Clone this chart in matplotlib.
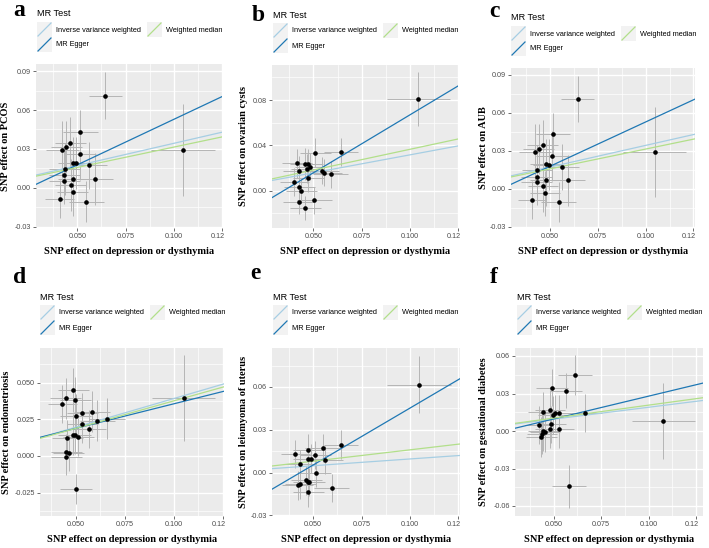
import numpy as np
import matplotlib
matplotlib.use("Agg")
import matplotlib.pyplot as plt
import matplotlib.transforms as mtrans
from matplotlib.patches import Rectangle
from matplotlib.lines import Line2D

W, H = 709, 548

# exposure: SNP effect on depression or dysthymia (shared SNPs for a and c)
x_pcos = [0.0646, 0.0516, 0.0464, 0.0443, 0.0423, 0.0514, 0.0478, 0.0495, 0.0562, 0.0434,
          0.0432, 0.0432, 0.0479, 0.0594, 0.0465, 0.0476, 0.0408, 0.0547, 0.1047]
sx_pcos = [0.0087, 0.0089, 0.008, 0.008, 0.0085, 0.0085, 0.008, 0.008, 0.009, 0.008,
           0.008, 0.008, 0.008, 0.009, 0.008, 0.008, 0.0075, 0.009, 0.0165]
y_pcos = [0.071, 0.043, 0.0344, 0.0313, 0.0292, 0.0258, 0.0195, 0.019, 0.0174, 0.0146,
          0.0097, 0.0052, 0.0066, 0.0066, 0.0019, -0.0036, -0.0086, -0.0106, 0.0292]
sy_pcos = [0.018, 0.017, 0.02, 0.02, 0.022, 0.02, 0.02, 0.02, 0.018, 0.02,
           0.02, 0.018, 0.02, 0.02, 0.02, 0.018, 0.015, 0.016, 0.0355]

x_cyst = [0.0509, 0.0641, 0.0415, 0.0458, 0.0471, 0.0484, 0.0465, 0.0424, 0.0542, 0.0556,
          0.0589, 0.0474, 0.0401, 0.0426, 0.0436, 0.0424, 0.0505, 0.0458, 0.1044]
sx_cyst = [0.008, 0.0088, 0.008, 0.008, 0.008, 0.008, 0.008, 0.008, 0.009, 0.009,
           0.009, 0.008, 0.0075, 0.008, 0.008, 0.008, 0.009, 0.008, 0.0164]
y_cyst = [0.0336, 0.0342, 0.0242, 0.0238, 0.0238, 0.0212, 0.0194, 0.0177, 0.0177, 0.0159,
          0.0144, 0.0112, 0.0077, 0.0035, -0.0003, -0.010, -0.0085, -0.0153, 0.0807]
sy_cyst = [0.0125, 0.012, 0.013, 0.014, 0.013, 0.012, 0.013, 0.013, 0.012, 0.012,
           0.012, 0.012, 0.012, 0.012, 0.011, 0.011, 0.012, 0.011, 0.024]

x_endo = [0.0488, 0.0449, 0.0498, 0.0432, 0.1051, 0.050, 0.0584, 0.0534, 0.0534, 0.0611,
          0.066, 0.0566, 0.0488, 0.0498, 0.0514, 0.0458, 0.0453, 0.0464, 0.0453, 0.0502]
sx_endo = [0.008, 0.008, 0.008, 0.0075, 0.016, 0.008, 0.009, 0.008, 0.008, 0.009,
           0.009, 0.009, 0.008, 0.008, 0.008, 0.008, 0.008, 0.008, 0.008, 0.008]
y_endo = [0.0448, 0.0394, 0.038, 0.0355, 0.0394, 0.027, 0.0302, 0.0291, 0.0216, 0.0239,
          0.0252, 0.0182, 0.0143, 0.014, 0.013, 0.0125, 0.0029, 0.002, -0.0009, -0.0227]
sy_endo = [0.015, 0.014, 0.016, 0.013, 0.0295, 0.015, 0.014, 0.014, 0.013, 0.014,
           0.014, 0.013, 0.014, 0.013, 0.013, 0.012, 0.012, 0.012, 0.012, 0.0104]

x_leio = [0.0644, 0.0548, 0.0473, 0.0407, 0.051, 0.0475, 0.049, 0.0562, 0.043, 0.0514,
          0.0464, 0.0474, 0.0479, 0.0433, 0.0421, 0.0596, 0.0474, 0.1048]
sx_leio = [0.0088, 0.009, 0.008, 0.0075, 0.008, 0.008, 0.008, 0.009, 0.008, 0.008,
           0.008, 0.008, 0.008, 0.008, 0.008, 0.009, 0.008, 0.0165]
y_leio = [0.0195, 0.0171, 0.0161, 0.0129, 0.0122, 0.0098, 0.0098, 0.0089, 0.0061, -0.0004,
          -0.0056, -0.0065, -0.0065, -0.0084, -0.0091, -0.011, -0.014, 0.0616]
sy_leio = [0.0102, 0.01, 0.011, 0.01, 0.01, 0.01, 0.01, 0.01, 0.01, 0.01,
           0.01, 0.01, 0.01, 0.01, 0.01, 0.01, 0.01, 0.02]

x_gdm = [0.0611, 0.0491, 0.0563, 0.0663, 0.0444, 0.0479, 0.053, 0.0505, 0.0496, 0.0423,
         0.0487, 0.0444, 0.0454, 0.0479, 0.0528, 0.0438, 0.0435, 0.1077, 0.0579]
sx_gdm = [0.0088, 0.0085, 0.0085, 0.009, 0.008, 0.008, 0.008, 0.008, 0.008, 0.0075,
          0.008, 0.008, 0.008, 0.008, 0.008, 0.008, 0.008, 0.0165, 0.009]
y_gdm = [0.0447, 0.0348, 0.0324, 0.0146, 0.0152, 0.0166, 0.0142, 0.0142, 0.0128, 0.0048,
         0.0054, 0.0, -0.0005, 0.0016, 0.0018, -0.0021, -0.0048, 0.0082, -0.0442]
sy_gdm = [0.016, 0.015, 0.014, 0.015, 0.016, 0.016, 0.015, 0.015, 0.015, 0.015,
          0.015, 0.016, 0.016, 0.015, 0.015, 0.016, 0.016, 0.0303, 0.0173]

# MR estimates: (intercept, slope) for IVW, MR Egger, weighted median
mr_pcos = {"ivw": (0.0, 0.343), "egger": (-0.0174, 0.702), "wm": (0.0, 0.314)}
mr_cyst = {"ivw": (0.0, 0.316), "egger": (-0.0353, 1.022), "wm": (0.0, 0.365)}
mr_endo = {"ivw": (0.0, 0.391), "egger": (0.002, 0.335), "wm": (0.0, 0.375)}
mr_leio = {"ivw": (0.0, 0.095), "egger": (-0.0346, 0.798), "wm": (0.0, 0.159)}
mr_gdm = {"ivw": (0.0, 0.190), "egger": (-0.0086, 0.365), "wm": (0.0, 0.207)}

col = {"ivw": "#a6cee3", "egger": "#1f78b4", "wm": "#b2df8a"}

panels = [
    # letter, ylabel, x, sx, y, sy, mr, box(px l,t,r,b), xlim, ylim, yticks, labels, minor step,
    # letter pos, legend origin, ylabel x
    ("a", "SNP effect on PCOS", x_pcos, sx_pcos, y_pcos, sy_pcos, mr_pcos, (36, 64, 222, 228),
     (0.0286, 0.125), (-0.031, 0.0955), [-0.03, 0, 0.03, 0.06, 0.09],
     ["-0.03", "0.00", "0.03", "0.06", "0.09"], 0.015, (13, 16), (37, 14), 6),
    ("b", "SNP effect on ovarian cysts", x_cyst, sx_cyst, y_cyst, sy_cyst, mr_cyst, (272, 65, 458, 228),
     (0.0285, 0.125), (-0.033, 0.111), [0, 0.04, 0.08], ["0.00", "0.04", "0.08"], 0.02,
     (252, 21), (273, 15), 243),
    ("c", "SNP effect on AUB", x_pcos, sx_pcos, y_pcos, sy_pcos, mr_pcos, (511, 68, 695, 228),
     (0.0298, 0.1258), (-0.031, 0.0955), [-0.03, 0, 0.03, 0.06, 0.09],
     ["-0.03", "0.00", "0.03", "0.06", "0.09"], 0.015, (489, 17), (511, 18), 483),
    ("d", "SNP effect on endometriosis", x_endo, sx_endo, y_endo, sy_endo, mr_endo, (40, 348, 224, 516),
     (0.0318, 0.1257), (-0.041, 0.0736), [-0.025, 0, 0.025, 0.05],
     ["-0.025", "0.000", "0.025", "0.050"], 0.0125, (13, 283), (40, 297), 7),
    ("e", "SNP effect on leiomyoma of uterus", x_leio, sx_leio, y_leio, sy_leio, mr_leio,
     (272, 348, 460, 516), (0.0287, 0.1258), (-0.0305, 0.0873), [-0.03, 0, 0.03, 0.06],
     ["-0.03", "0.00", "0.03", "0.06"], 0.015, (250, 279), (273, 297), 243),
    ("f", "SNP effect on gestational diabetes", x_gdm, sx_gdm, y_gdm, sy_gdm, mr_gdm,
     (515, 348, 703, 516), (0.0296, 0.1286), (-0.068, 0.0664), [-0.06, -0.03, 0, 0.03, 0.06],
     ["-0.06", "-0.03", "0.00", "0.03", "0.06"], 0.015, (490, 283), (517, 297), 483),
]

fig = plt.figure(figsize=(W / 100, H / 100), dpi=100)
sans = "Liberation Sans"
serif = "Liberation Serif"


def fx(px):
    return px / W


def fy(py):
    return 1 - py / H


def legend(x0, y0):
    # title
    fig.text(fx(x0), fy(y0), "MR Test", fontsize=6.6, family=sans, va="center", ha="left")
    keys = [("ivw", x0, y0 + 8, "Inverse variance weighted"),
            ("wm", x0 + 110, y0 + 8, "Weighted median"),
            ("egger", x0, y0 + 23, "MR Egger")]
    for k, kx, ky, lab in keys:
        fig.add_artist(Rectangle((fx(kx), fy(ky + 15)), 15 / W, 15 / H,
                                 transform=fig.transFigure, facecolor="#F2F2F2", edgecolor="none"))
        fig.add_artist(Line2D([fx(kx + 1), fx(kx + 14)], [fy(ky + 14), fy(ky + 1)],
                              transform=fig.transFigure, color=col[k], lw=0.9))
        fig.text(fx(kx + 19), fy(ky + 8), lab, fontsize=5.3, family=sans, va="center", ha="left")


for (letter, ylab, xs, sxs, ys, sys_, mr, box, xlim, ylim, yt, ytl, mstep, lpos, lgpos, ylx) in panels:
    l, t, r, b = box
    ax = fig.add_axes([fx(l), fy(b), (r - l) / W, (b - t) / H])
    ax.set_facecolor("#EBEBEB")
    for s in ax.spines.values():
        s.set_visible(False)
    ax.set_xlim(xlim)
    ax.set_ylim(ylim)

    xt = [0.05, 0.075, 0.1, 0.125]
    ax.set_xticks(xt)
    ax.set_xticklabels(["0.050", "0.075", "0.100", "0.12"])
    ax.set_xticks([0.0375, 0.0625, 0.0875, 0.1125], minor=True)
    ax.set_yticks(yt)
    ax.set_yticklabels(ytl)
    ym = np.arange(yt[0] - mstep, ylim[1], 2 * mstep)
    ax.set_yticks([v for v in ym if ylim[0] < v < ylim[1]], minor=True)
    ax.grid(which="major", color="white", lw=1.0)
    ax.grid(which="minor", color="white", lw=0.5)
    ax.set_axisbelow(True)
    ax.tick_params(which="major", length=2.2, width=0.5, color="#333333", labelsize=5.2,
                   labelcolor="#4D4D4D", pad=1.5)
    ax.tick_params(which="minor", length=0)
    for lab in ax.get_xticklabels() + ax.get_yticklabels():
        lab.set_family(sans)
    last = ax.get_xticklabels()[-1]
    last.set_transform(last.get_transform() + mtrans.ScaledTranslation(-3 / 72, 0, fig.dpi_scale_trans))

    # error bars and points
    ax.errorbar(xs, ys, yerr=sys_, fmt="none", ecolor="#B5B5B5", elinewidth=0.7, capsize=0, zorder=2)
    ax.errorbar(xs, ys, xerr=sxs, fmt="none", ecolor="#B5B5B5", elinewidth=0.7, capsize=0, zorder=2)
    ax.scatter(xs, ys, s=11, color="black", zorder=4, linewidths=0)

    xx = np.array(xlim)
    for k in ["ivw", "egger", "wm"]:
        a0, b1 = mr[k]
        ax.plot(xx, a0 + b1 * xx, color=col[k], lw=0.9, zorder=3)

    fig.text(fx((l + r) / 2), fy(b + 24), "SNP effect on depression or dysthymia",
             fontsize=7.5, family=serif, weight="bold", ha="center", va="center")
    fig.text(fx(ylx), fy((t + b) / 2), ylab, fontsize=7.5, family=serif, weight="bold",
             ha="center", va="center", rotation=90)
    fig.text(fx(lpos[0]), fy(lpos[1]), letter, fontsize=17, family=serif, weight="bold",
             ha="left", va="baseline")
    legend(*lgpos)

fig.savefig("out.png", dpi=100)
